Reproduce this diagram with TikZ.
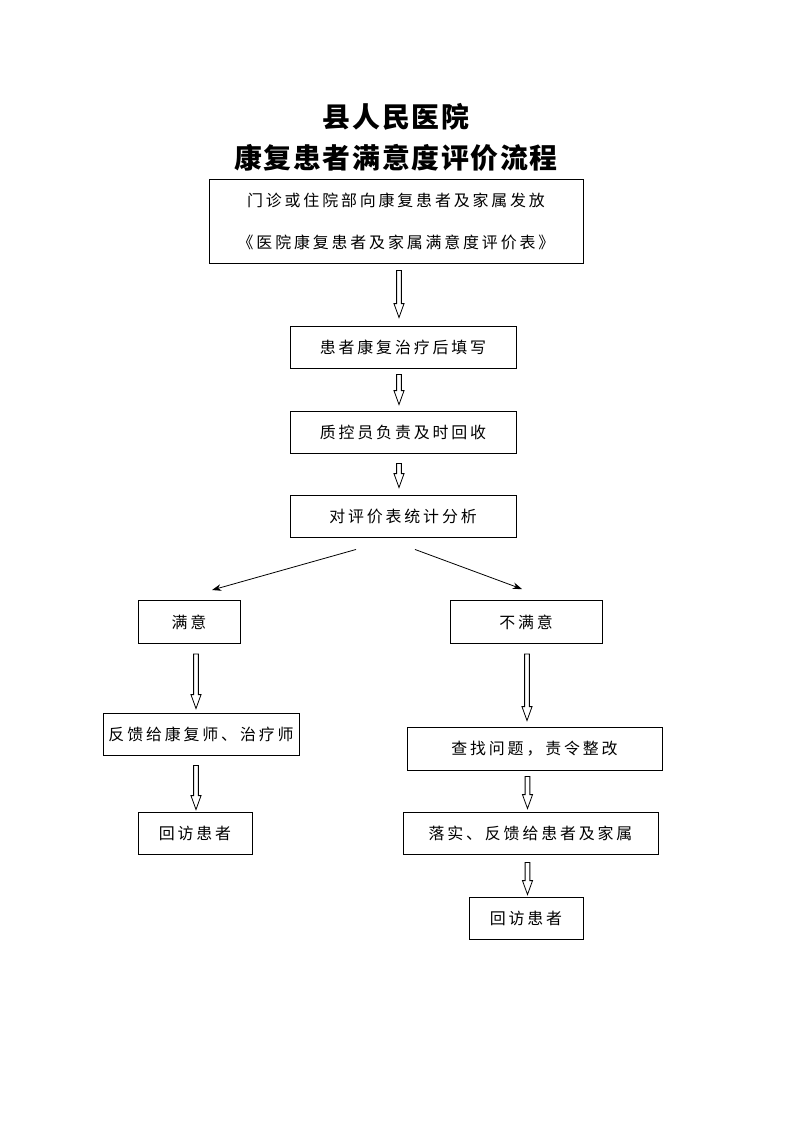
\documentclass[tikz,border=0pt]{standalone}
\usepackage{fontspec}
\newfontfamily\cjk[LetterSpace=18]{Noto Sans CJK SC}
\newfontfamily\cjktitle[LetterSpace=6]{Noto Sans CJK SC}
\usetikzlibrary{calc,arrows.meta}
\newdimen\px \px=0.26483mm
\tikzset{
>={Stealth[length=7pt,width=5pt]},
x=\px, y=-\px,
titel/.style={font=\cjktitle\bfseries\fontsize{21pt}{25pt}\selectfont},
kasten/.style={rectangle, draw=black, line width=0.7pt, text centered, inner sep=0pt, font=\cjk\fontsize{12pt}{14pt}\selectfont},
hohlpfeil/.style={draw=black, line width=0.6pt, fill=white},
line/.style={draw, line width=0.6pt, ->},
}
% hollow block arrow between two points, drawn at the x of the first point
\newcommand{\hohlpfeil}[2]{\draw[hohlpfeil] let \p1=(#1), \p2=(#2) in
(\x1-1.8pt,\y1) -- (\x1-1.8pt,\y2+10.5pt) -- (\x1-3.8pt,\y2+10.5pt) -- (\x1,\y2) --
(\x1+3.8pt,\y2+10.5pt) -- (\x1+1.8pt,\y2+10.5pt) -- (\x1+1.8pt,\y1) -- cycle;}

\begin{document}
\begin{tikzpicture}
\useasboundingbox[fill=white] (0,0) rectangle (793,1122);

\node[titel] (titel1) at (396,117) {县人民医院};
\node[titel] (titel2) at (396,158) {康复患者满意度评价流程};

\node[kasten, minimum width=374\px, minimum height=84\px, align=center,
  font=\cjk\fontsize{12pt}{31.6pt}\selectfont] (form) at (396,221)
  {门诊或住院部向康复患者及家属发放\\《医院康复患者及家属满意度评价表》};
\node[kasten, minimum width=226\px, minimum height=42\px] (fill) at (403,347) {患者康复治疗后填写};
\node[kasten, minimum width=226\px, minimum height=42\px] (collect) at (403,432) {质控员负责及时回收};
\node[kasten, minimum width=226\px, minimum height=42\px] (stats) at (403,516) {对评价表统计分析};

\node[kasten, minimum width=102\px, minimum height=43\px] (sat) at (189,622) {满意};
\node[kasten, minimum width=152\px, minimum height=43\px] (unsat) at (526,622) {不满意};

\node[kasten, minimum width=196\px, minimum height=42\px] (feedback) at (201,734) {反馈给康复师、治疗师};
\node[kasten, minimum width=255\px, minimum height=43\px] (fix) at (534.5,748.5) {查找问题，责令整改};
\node[kasten, minimum width=114\px, minimum height=42\px] (visitL) at (195,833) {回访患者};
\node[kasten, minimum width=255\px, minimum height=42\px] (notify) at (530.5,833) {落实、反馈给患者及家属};
\node[kasten, minimum width=114\px, minimum height=42\px] (visitR) at (526,918) {回访患者};

\hohlpfeil{$(form.south)+(3,7)$}{$(fill.north)+(0,-8)$}
\hohlpfeil{$(fill.south)+(-4,6)$}{$(collect.north)+(0,-6)$}
\hohlpfeil{$(collect.south)+(-4,10)$}{$(stats.north)+(0,-7)$}

\path[line] ($(stats.south)+(-47,12)$) -- ($(sat.north)+(23,-10)$);
\path[line] ($(stats.south)+(12,12)$) -- ($(unsat.north)+(-4,-11)$);

\hohlpfeil{$(sat.south)+(7,10)$}{$(feedback.north)+(0,-4)$}
\hohlpfeil{$(unsat.south)+(1,10)$}{$(fix.north)+(0,-6)$}
\hohlpfeil{$(feedback.south)+(-5,10)$}{$(visitL.north)+(0,-2)$}
\hohlpfeil{$(fix.south)+(-7,6)$}{$(notify.north)+(0,-3)$}
\hohlpfeil{$(notify.south)+(-3,8)$}{$(visitR.north)+(0,-2)$}

\end{tikzpicture}
\end{document}
